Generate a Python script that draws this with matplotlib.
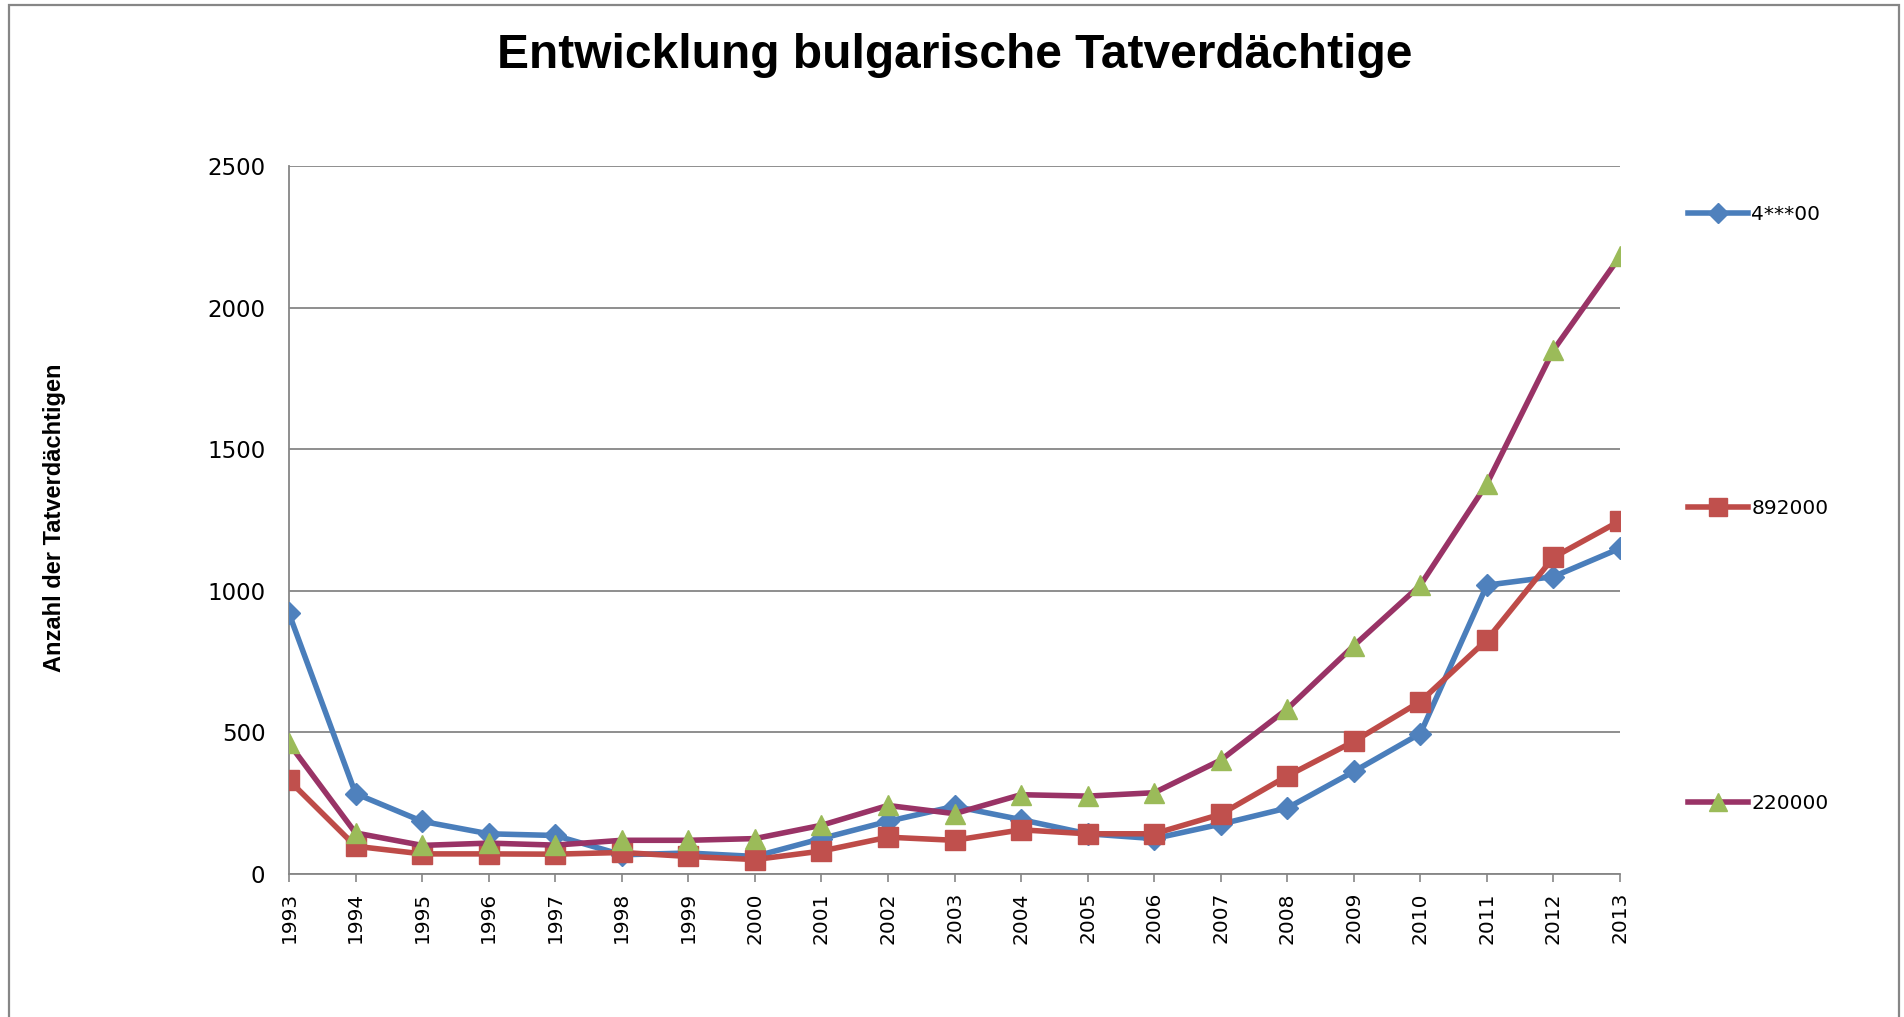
import matplotlib
matplotlib.use("Agg")
import matplotlib.pyplot as plt
from matplotlib.patches import Rectangle

years = list(range(1993, 2014))

# Tatverdaechtige je Jahr, drei Reihen
s_4xx00 = [920, 284, 186, 142, 136, 68, 74, 62, 125, 186, 239, 192, 142, 125,
           176, 233, 362, 496, 1020, 1050, 1150]
s_892000 = [331, 98, 71, 71, 70, 76, 62, 51, 81, 130, 119, 156, 142, 142,
            211, 346, 468, 609, 827, 1118, 1247]
s_220000 = [461, 145, 101, 109, 102, 119, 119, 125, 172, 242, 213, 280, 275, 287,
            402, 583, 806, 1020, 1378, 1850, 2181]

labels = ["4***00", "892000", "220000"]
title = "Entwicklung bulgarische Tatverdächtige"
ylabel = "Anzahl der Tatverdächtigen"

grey = "#868686"

fig = plt.figure(figsize=(19.04, 10.17), dpi=100)
ax = fig.add_axes([289 / 1904, 143 / 1017, 1331 / 1904, 708 / 1017])

lw = 4.0
ax.plot(years, s_4xx00, color="#4A7EBB", lw=lw, marker="D", ms=11.5,
        mfc="#4F81BD", mec="#4F81BD", label=labels[0], zorder=3)
ax.plot(years, s_892000, color="#BE4B48", lw=lw, marker="s", ms=14,
        mfc="#C0504D", mec="#C0504D", label=labels[1], zorder=4)
ax.plot(years, s_220000, color="#993366", lw=lw, marker="^", ms=15,
        mfc="#9BBB59", mec="#9BBB59", label=labels[2], zorder=5)

ax.set_xlim(1993, 2013)
ax.set_ylim(0, 2500)
ax.set_xticks(years)
ax.set_xticklabels([str(y) for y in years], rotation=90, fontsize=14.5)
ax.set_yticks(range(0, 2501, 500))
ax.tick_params(axis="y", length=0, pad=17, labelsize=16.5)
ax.tick_params(axis="x", length=6, width=1.2, color=grey, pad=7)

ax.grid(axis="y", color=grey, lw=1.3)
ax.set_axisbelow(True)
for side in ["top", "right"]:
    ax.spines[side].set_visible(False)
for side in ["left", "bottom"]:
    ax.spines[side].set_color(grey)
    ax.spines[side].set_linewidth(1.3)

fig.text(955 / 1904, 1 - 55 / 1017, title, ha="center", va="center",
         fontsize=34.5, fontweight="bold", family="Liberation Sans")
fig.text(55 / 1904, 1 - 518 / 1017, ylabel, rotation=90, ha="center",
         va="center", fontsize=17, fontweight="bold", family="Liberation Sans")

fig.legend(loc="center left", bbox_to_anchor=(1688 / 1904, 1 - 509 / 1017),
           bbox_transform=fig.transFigure, frameon=False, fontsize=14.5,
           handlelength=3.0, handletextpad=0.15, borderpad=0,
           borderaxespad=0, labelspacing=13.7, markerscale=0.9)

# Rahmen um das Diagramm
fig.add_artist(Rectangle((9 / 1904, -0.05), (1899 - 9) / 1904, 1.05 - 5 / 1017,
                         transform=fig.transFigure, fill=False,
                         edgecolor=grey, lw=1.6))

fig.savefig("out.png", dpi=100)
